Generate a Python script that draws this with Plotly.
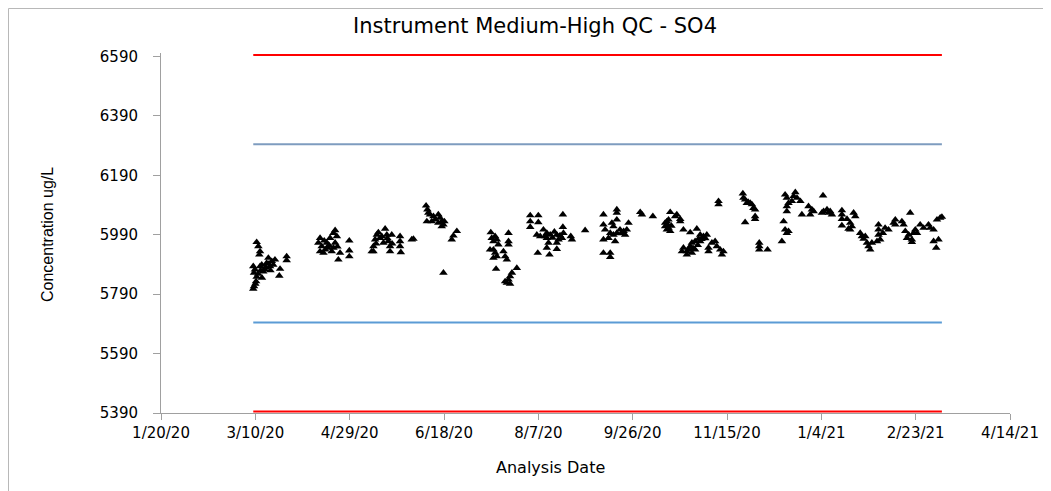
import pandas as pd
import plotly.graph_objects as go

# ---- data (day offsets from 2020-01-20, concentrations ug/L) ----
base_date = "2020-01-20"
days = [
    # March 2020
    50.7, 51.6, 52.5, 52.1, 48.9, 49.8, 49.3, 50.7, 50.4, 49.3, 48.9, 52.5, 53.4, 56.9, 56.0,
    57.8, 58.7, 59.5, 60.4, 55.1, 54.2, 63.1, 62.7, 66.6, 66.6, 51.5, 52.8, 55.5, 57.0, 58.0,
    53.5, 50.0,
    # April 2020
    84.3, 83.4, 85.2, 84.3, 86.1, 87.9, 89.6, 91.4, 92.3, 93.2, 92.3, 91.4, 90.5, 94.9, 94.0,
    87.0, 88.7, 99.8, 99.8, 99.8, 86.5, 89.0, 93.5,
    # May 2020
    111.7, 112.6, 113.5, 114.4, 115.2, 116.1, 118.8, 119.7, 120.5, 121.4, 121.4, 122.3, 126.7,
    126.7, 126.7, 127.1, 132.9, 133.8, 117.9, 112.6, 114.0, 117.0, 120.0, 122.5,
    # June 2020
    140.5, 141.2, 141.7, 142.6, 140.9, 143.5, 145.3, 147.0, 147.9, 148.8, 149.7, 148.8, 147.0,
    144.4, 150.2, 149.7, 154.1, 155.0, 156.8,
    # July 2020
    174.8, 175.3, 176.2, 177.1, 178.0, 178.8, 176.2, 177.1, 176.2, 178.0, 181.5, 182.4, 183.3,
    184.2, 184.2, 184.2, 177.6, 188.6, 186.0, 185.0, 184.2, 183.3, 182.4, 185.0, 174.4,
    # August 2020
    195.7, 200.0, 195.7, 200.0, 195.7, 202.7, 199.2, 201.0, 204.5, 206.3, 204.5, 205.4, 209.8,
    210.7, 209.8, 212.5, 213.3, 213.0, 213.0, 217.2, 217.8, 204.5, 209.8, 199.7, 205.9, 224.8,
    203.5, 207.5, 208.5, 211.5,
    # September 2020
    234.5, 241.6, 241.6, 234.5, 239.0, 239.8, 241.6, 235.4, 238.1, 239.8, 241.6, 245.2, 246.9,
    247.8, 237.2, 234.5, 240.7, 234.5, 238.1, 238.1, 243.3, 244.0, 246.0,
    254.0, 254.9, 260.7,
    # October 2020
    269.9, 273.4, 275.2, 275.2, 267.2, 268.1, 269.0, 267.2, 269.0, 269.9, 268.1, 272.5, 268.5,
    270.5,
    276.9, 280.5, 284.0, 285.8, 287.5, 289.3, 284.9, 283.1, 281.4, 280.5, 276.9, 276.1, 278.7,
    281.4, 283.1, 285.8, 290.2, 290.2, 293.7, 294.6, 296.4, 298.1, 297.3, 292.0, 278.7, 282.0,
    284.5, 286.5, 288.5, 279.5,
    295.5, 295.5,
    # late November 2020
    308.4, 308.7, 309.6, 310.5, 312.3, 313.2, 314.0, 314.9, 309.6, 314.9, 314.9, 311.2,
    317.1, 317.1, 317.1, 321.5,
    # Dec 2020 - Jan 2021
    329.1, 330.0, 330.8, 331.7, 332.6, 330.8, 331.7, 332.6, 331.7, 331.7, 336.2, 335.3, 337.1,
    338.9, 339.7, 334.4,
    343.2, 345.0, 344.1, 345.9, 350.9, 351.2, 353.0, 353.9, 354.7, 355.6, 350.3,
    360.9, 360.9, 360.9, 360.9, 363.6, 365.3, 366.2, 367.1, 368.0, 365.3, 364.4,
    # Feb - Mar 2021
    370.6, 371.5, 372.4, 373.3, 374.2, 375.0, 375.9, 376.8, 380.3, 380.3, 380.3, 381.2, 379.5,
    382.6, 383.8, 385.6, 388.3, 389.2, 389.2, 392.7, 393.6, 394.5, 396.3, 397.1, 398.0, 398.9,
    399.8, 400.7, 402.4, 404.2, 406.8, 407.7, 409.5, 411.3, 413.0, 413.9, 409.5, 412.1, 410.9,
    395.4, 398.0,
]
concentration = [
    5965, 5951, 5934, 5923, 5884, 5873, 5862, 5848, 5833, 5816, 5808, 5884, 5889, 5912, 5895,
    5884, 5901, 5889, 5906, 5873, 5866, 5875, 5852, 5917, 5904, 5858, 5870, 5880, 5892, 5870,
    5845, 5825,
    5979, 5963, 5951, 5934, 5929, 5963, 5979, 5996, 6005, 5985, 5963, 5946, 5934, 5929, 5906,
    5940, 5946, 5970, 5937, 5917, 5970, 5955, 5950,
    5934, 5951, 5974, 5990, 5998, 5979, 6010, 5990, 5968, 5951, 5934, 5990, 5985,
    5968, 5951, 5931, 5974, 5976, 5963, 5934, 5960, 5985, 5978, 5960,
    6088, 6075, 6064, 6058, 6035, 6035, 6041, 6058, 6047, 6035, 6024, 6018, 6030,
    6052, 6035, 5862, 5974, 5987, 6002,
    5998, 5979, 5968, 5985, 5974, 5957, 5940, 5929, 5912, 5917, 5934, 5917, 5906,
    5996, 5968, 5957, 5875, 5878, 5862, 5850, 5839, 5828, 5833, 5825, 5940,
    6055, 6055, 6035, 6032, 6016, 6007, 5990, 5985, 5996, 5990, 5979, 5963, 5990,
    5974, 5963, 5979, 5996, 6058, 6016, 5985, 5974, 5946, 5942, 5929, 5923, 6005,
    5985, 5980, 6000, 5988,
    6058, 6075, 6064, 6024, 6030, 6018, 6041, 6007, 5996, 5990, 5996, 6002, 6007,
    6030, 5979, 5974, 5968, 5929, 5929, 5915, 6007, 5995, 5990,
    6066, 6058, 6052,
    6066, 6058, 6043, 6035, 6030, 6035, 6041, 6018, 6013, 6002, 6007, 6052, 6024,
    6020,
    6007, 5998, 6010, 5990, 5985, 5990, 5976, 5968, 5963, 5951, 5946, 5934, 5934,
    5929, 5940, 5968, 5946, 5934, 5968, 5951, 5940, 5934, 5923, 5963, 5923, 5945,
    5955, 5975, 5978, 5940,
    6092, 6103,
    6129, 6114, 6108, 6097, 6097, 6092, 6080, 6075, 6032, 6052, 6043, 6100,
    5963, 5951, 5940, 5940,
    5968, 6035, 6007, 5996, 6002, 6125, 6114, 6097, 6086, 6069, 6133, 6120, 6114,
    6103, 6058, 6103,
    6086, 6075, 6058, 6069, 6122, 6069, 6075, 6064, 6069, 6058, 6064,
    6072, 6058, 6043, 6021, 6043, 6030, 6018, 6064, 6052, 6007, 6010,
    5996, 5985, 5976, 5985, 5963, 5951, 5940, 5963, 6024, 6007, 5990, 5974, 5968,
    5996, 6013, 6007, 6030, 6041, 6024, 6035, 6024, 6002, 5990, 6064, 5974, 5996,
    6007, 5996, 6024, 6013, 6024, 6013, 6007, 6041, 6047, 6050, 5968, 5974, 5946,
    5979, 5965,
]

# control / warning limits
upper_control = 6595
upper_warning = 6295
lower_warning = 5695
lower_control = 5395

y_ticks = [5390, 5590, 5790, 5990, 6190, 6390, 6590]
x_tick_start = "2020-01-20"
x_tick_end = "2021-04-14"

dates = pd.Timestamp(base_date) + pd.to_timedelta(days, unit="D")
line_x = [dates.min(), dates.max()]

# the page body has an 8px margin, so the figure is 8px smaller than the window
W, H = 1043, 483
L, R, T, B = 153, 41, 45, 78
PW, PH = W - L - R, H - T - B


def px(xp):  # page x -> paper fraction
    return (xp - 8 - L) / PW


def py(yp):  # page y -> paper fraction
    return (H - B - (yp - 8)) / PH


fig = go.Figure()

for val, col in [(upper_control, "#FF0000"), (upper_warning, "#7E9CBF"),
                 (lower_warning, "#5B9BD5"), (lower_control, "#FF0000")]:
    fig.add_trace(go.Scatter(x=line_x, y=[val, val], mode="lines",
                             line=dict(color=col, width=2), hoverinfo="skip"))

fig.add_trace(go.Scatter(
    x=dates, y=concentration, mode="markers",
    marker=dict(symbol="triangle-up", size=7.5, color="black",
                line=dict(width=0)),
))

axis_col = "#A0A0A0"
fig.update_layout(
    width=W, height=H,
    margin=dict(l=L, r=R, t=T, b=B, autoexpand=False),
    paper_bgcolor="white", plot_bgcolor="white",
    showlegend=False,
    title=dict(text="Instrument Medium-High QC - SO4", x=(535 - 8) / W, xref="container",
               xanchor="center", y=1 - (26 - 8) / H, yref="container", yanchor="middle",
               font=dict(family="DejaVu Sans", size=21, color="#000000")),
    font=dict(family="DejaVu Sans", color="#000000"),
)
fig.update_xaxes(
    type="date",
    range=[x_tick_start, x_tick_end],
    tick0=x_tick_start, dtick=50 * 86400000,
    tickformat="%-m/%-d/%y",
    ticks="outside", ticklen=6, tickcolor=axis_col, tickwidth=1,
    showline=True, linecolor=axis_col, linewidth=1,
    showgrid=False, zeroline=False,
    tickfont=dict(family="DejaVu Sans", size=15, color="#000000"),
)
fig.update_yaxes(
    range=[5390, 6602],
    tickvals=y_ticks,
    ticks="outside", ticklen=7, tickcolor=axis_col, tickwidth=1,
    showline=True, linecolor=axis_col, linewidth=1,
    showgrid=False, zeroline=False,
    ticklabelstandoff=12,
    tickfont=dict(family="DejaVu Sans", size=15, color="#000000"),
)

fig.add_annotation(text="Analysis Date", xref="paper", yref="paper",
                   x=px(550), y=py(468),
                   xanchor="center", yanchor="middle", showarrow=False,
                   font=dict(family="DejaVu Sans", size=16, color="#000000"))
fig.add_annotation(text="Concentration ug/L", xref="paper", yref="paper",
                   x=px(47), y=py(234), textangle=-90,
                   xanchor="center", yanchor="middle", showarrow=False,
                   font=dict(family="Liberation Sans Narrow, Liberation Sans", size=16,
                             color="#000000"))

# outer chart frame (left and top edges visible in the reference)
fig.add_shape(type="line", xref="paper", yref="paper",
              x0=px(8.5), x1=px(8.5), y0=py(500), y1=py(8.5),
              line=dict(color="#B8B8B8", width=1))
fig.add_shape(type="line", xref="paper", yref="paper",
              x0=px(8.5), x1=px(1060), y0=py(8.5), y1=py(8.5),
              line=dict(color="#B8B8B8", width=1))

fig.write_html("out.html")
